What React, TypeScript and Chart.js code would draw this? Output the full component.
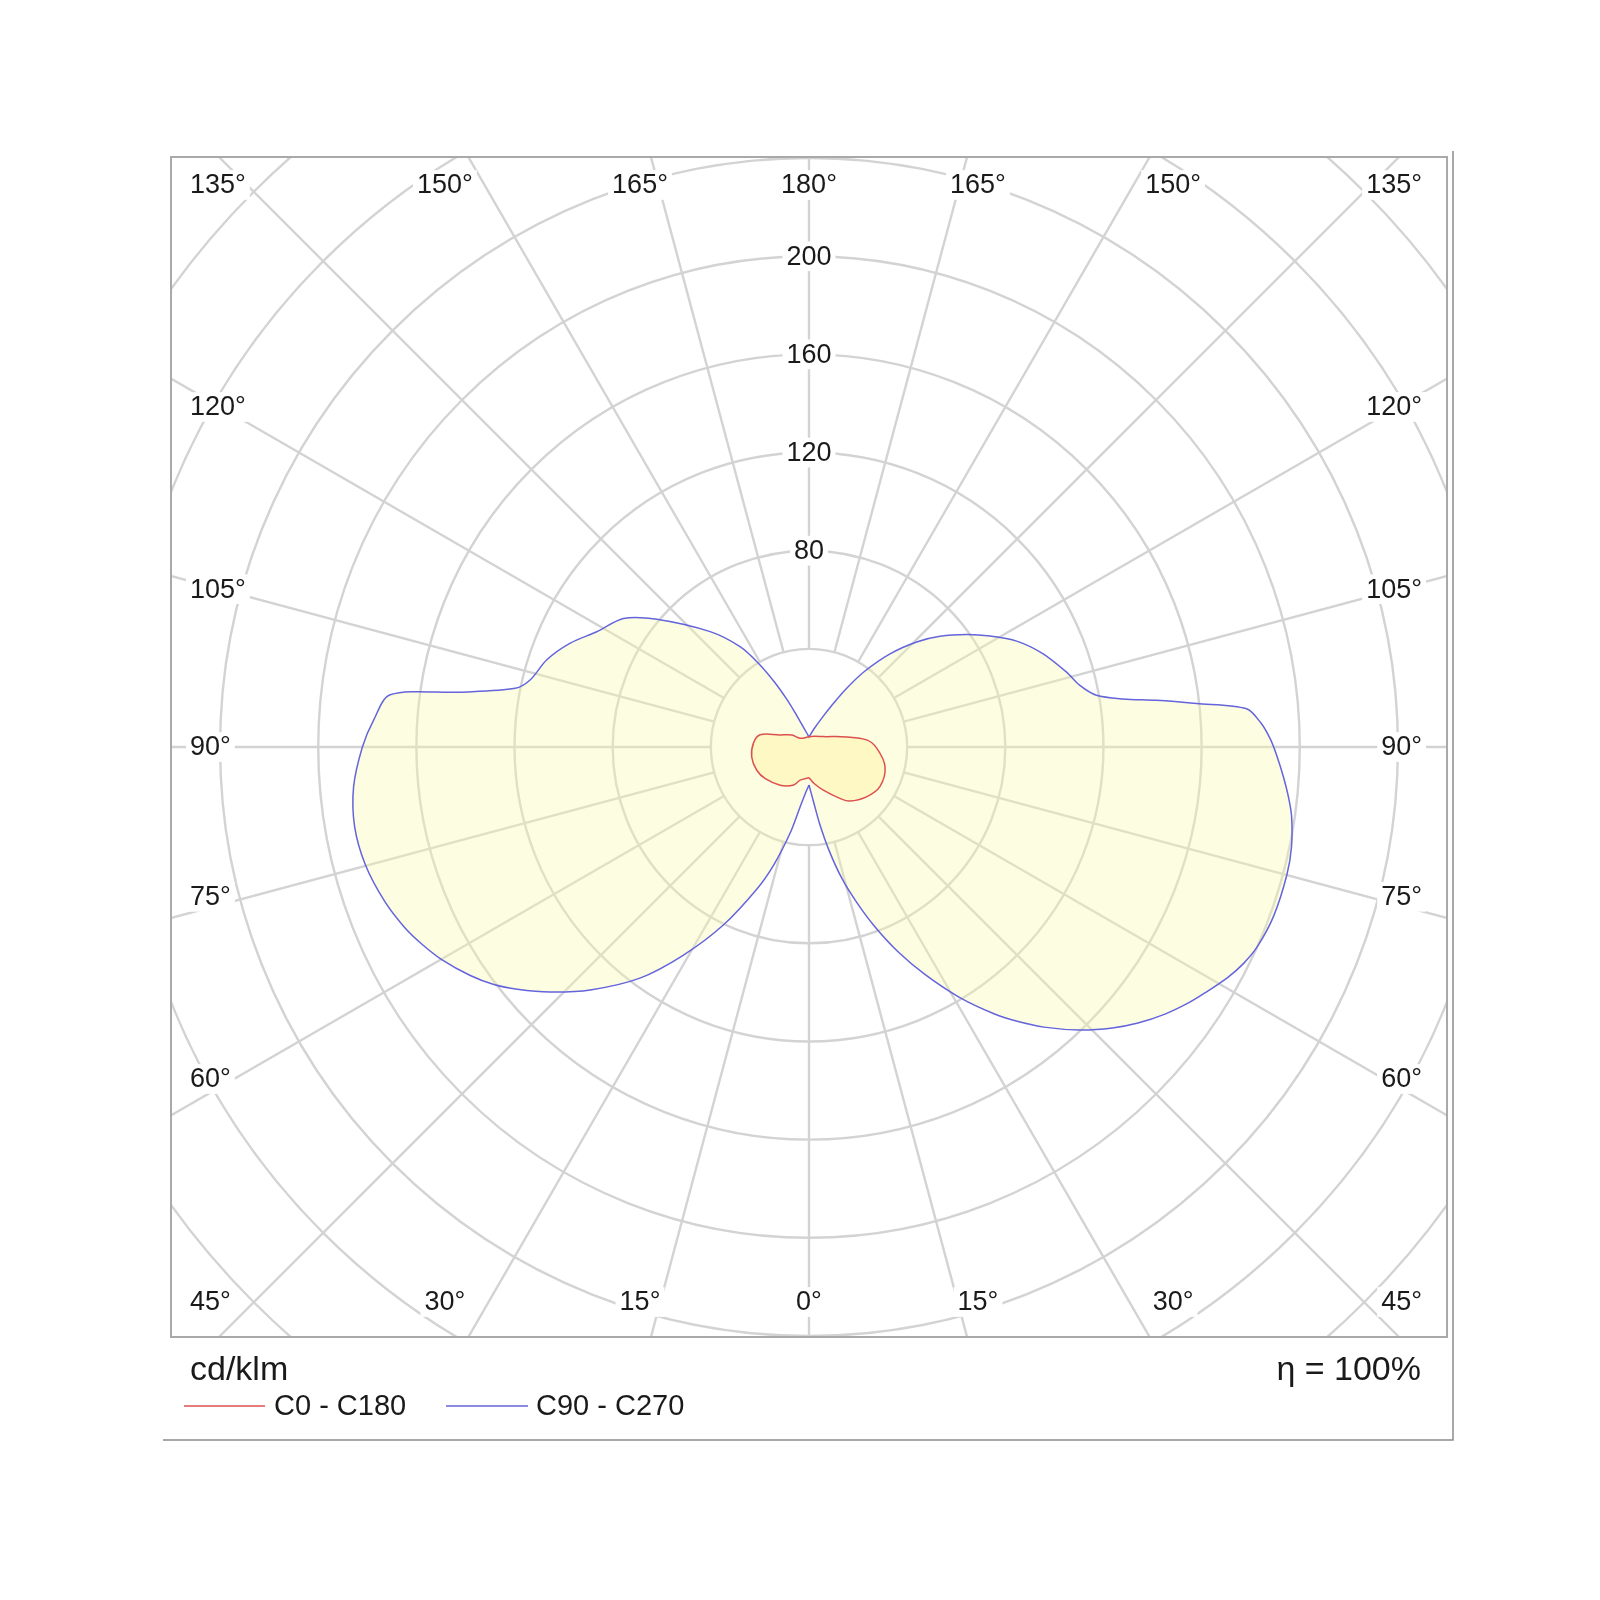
import React, { useEffect, useRef } from "react";
import { Chart, registerables } from "chart.js";

Chart.register(...registerables);

// Luminous intensity (cd/klm) versus gamma angle (deg, 0 = straight down)
const c90Angles = [0, 5, 8, 11, 14, 17, 20, 23.5, 27, 31, 34.8, 37.1, 40, 43.7, 47.2, 50, 53.2, 56, 58.2, 61.2, 63.5, 66, 70, 75, 78.3, 81.8, 84, 86.5, 89, 91, 93, 95, 96.4, 97.65, 98.7, 100.2, 102.8, 106.2, 111.7, 117, 121.5, 125.5, 130.2, 134.3, 139, 143.8, 147.7, 151.4, 156, 165, 180];
const c90Values = [15.5, 23, 32, 43, 55, 66, 77.5, 91, 104, 119, 132.5, 140, 149, 159.5, 168.5, 175, 181.5, 186.5, 190, 194.8, 197.8, 200, 201.5, 201.6, 200.8, 198.7, 196.5, 193.6, 190.6, 188, 184.5, 179, 158.9, 142.9, 129.5, 119, 113.2, 109.3, 102.7, 95, 86.5, 78.9, 69.9, 61.3, 50.3, 38, 27.5, 19, 13, 7.5, 4];

const c270Angles = [0, 5, 8.6, 12.4, 16.6, 20.1, 25.7, 31.1, 36.2, 42, 46.6, 50.3, 53, 56, 60, 63, 66, 70, 75, 80, 85, 90, 93.5, 97.1, 98.9, 101.3, 103.5, 108.4, 113.5, 118.5, 124.7, 130, 139.4, 145.5, 149, 152, 155, 158, 162, 170, 180];
const c270Values = [15.5, 19.5, 25, 36, 50, 61.5, 80.5, 99, 116.7, 133.2, 145.3, 154.5, 160.8, 166.5, 173, 177, 180.5, 184, 187, 188, 186.3, 182, 177.8, 172, 144.3, 122.1, 116.9, 112.6, 106.1, 98.4, 92, 81, 61.9, 49.6, 39.5, 30, 21.5, 15, 10, 6, 4];

const c0Angles = [0, 8, 18.4, 31, 37, 49, 61, 75.5, 89, 97, 105, 126, 150, 180];
const c0Values = [12.5, 15, 18.5, 24.4, 27.6, 31, 33.1, 32, 27.6, 23.7, 15.9, 7.2, 5, 4.2];

const c180Angles = [0, 15, 22, 37, 54, 66, 80, 94, 104, 112.5, 125, 134, 180];
const c180Values = [12.5, 14, 16.7, 19.5, 22, 23.3, 23.7, 22.7, 20.5, 12.8, 8.5, 5.1, 4.2];

const ringValues = [40, 80, 120, 160, 200, 240, 280, 320, 360];
const ringLabelValues = [80, 120, 160, 200];
const spokeStep = 15;
const topAngleLabels = [135, 150, 165, 180, 165, 150, 135];
const bottomAngleLabels = [45, 30, 15, 0, 15, 30, 45];
const sideAngleLabels = [120, 105, 90, 75, 60];

const unitLabel = "cd/klm";
const efficiencyLabel = "\u03b7 = 100%";
const seriesNames = ["C0 - C180", "C90 - C270"];

const RED = "#dc5050";
const BLUE = "#6464dc";

function loop(rightA: number[], rightV: number[], leftA: number[], leftV: number[]) {
  const pts: { x: number; y: number }[] = [];
  for (let i = 0; i < rightA.length; i++) {
    const t = (rightA[i] * Math.PI) / 180;
    pts.push({ x: rightV[i] * Math.sin(t), y: -rightV[i] * Math.cos(t) });
  }
  for (let i = leftA.length - 1; i >= 0; i--) {
    const t = (leftA[i] * Math.PI) / 180;
    pts.push({ x: -leftV[i] * Math.sin(t), y: -leftV[i] * Math.cos(t) });
  }
  return pts;
}

const FONT = '"Liberation Sans", Arial, sans-serif';

function boxedText(ctx: CanvasRenderingContext2D, text: string, x: number, y: number, align: CanvasTextAlign, size: number) {
  ctx.font = `${size}px ${FONT}`;
  const w = ctx.measureText(text).width;
  let left = x;
  if (align === "center") left = x - w / 2;
  else if (align === "right") left = x - w;
  ctx.fillStyle = "#ffffff";
  ctx.fillRect(left - 4, y - size * 0.55, w + 8, size * 1.1);
  ctx.fillStyle = "#1a1a1a";
  ctx.textAlign = "left";
  ctx.textBaseline = "middle";
  ctx.fillText(text, left, y + 1);
}

const polarGrid = {
  id: "polarGrid",
  beforeDatasetsDraw(chart: any) {
    const { ctx, chartArea: a, scales } = chart;
    const xs = scales.x;
    const ys = scales.y;
    const cx = xs.getPixelForValue(0);
    const cy = ys.getPixelForValue(0);
    const k = xs.getPixelForValue(1) - cx;
    ctx.save();
    ctx.beginPath();
    ctx.rect(a.left, a.top, a.right - a.left, a.bottom - a.top);
    ctx.clip();
    ctx.strokeStyle = "#d3d3d3";
    ctx.lineWidth = 2.4;
    for (const r of ringValues) {
      ctx.beginPath();
      ctx.arc(cx, cy, r * k, 0, Math.PI * 2);
      ctx.stroke();
    }
    const r0 = ringValues[0] * k;
    const r1 = 420 * k;
    for (let d = 0; d < 360; d += spokeStep) {
      const t = (d * Math.PI) / 180;
      ctx.beginPath();
      ctx.moveTo(cx + r0 * Math.sin(t), cy + r0 * Math.cos(t));
      ctx.lineTo(cx + r1 * Math.sin(t), cy + r1 * Math.cos(t));
      ctx.stroke();
    }
    for (const v of ringLabelValues) {
      boxedText(ctx, String(v), cx, cy - v * k, "center", 27);
    }
    const leftX = a.left + 19;
    const rightX = a.right - 25;
    const topY = a.top + 28;
    const botY = a.bottom - 35;
    const D = 257;
    const n = topAngleLabels.length;
    const mid = (n - 1) / 2;
    for (let i = 0; i < n; i++) {
      const off = Math.abs(i - mid) * spokeStep;
      const sign = i < mid ? -1 : 1;
      const tl = topAngleLabels[i] + "\u00b0";
      const bl = bottomAngleLabels[i] + "\u00b0";
      if (off >= 45) {
        const al: CanvasTextAlign = sign < 0 ? "left" : "right";
        const xx = sign < 0 ? leftX : rightX;
        boxedText(ctx, tl, xx, topY, al, 27);
        boxedText(ctx, bl, xx, botY, al, 27);
      } else {
        const xx = cx + sign * D * Math.tan((off * Math.PI) / 180) * k;
        boxedText(ctx, tl, xx, topY, "center", 27);
        boxedText(ctx, bl, xx, botY, "center", 27);
      }
    }
    for (const s of sideAngleLabels) {
      const b = ((s - 90) * Math.PI) / 180;
      let yy = cy - 240 * Math.tan(b) * k;
      if (s < 90) yy -= 8;
      boxedText(ctx, s + "\u00b0", leftX, yy, "left", 27);
      boxedText(ctx, s + "\u00b0", rightX, yy, "right", 27);
    }
    ctx.restore();
  },
  afterDraw(chart: any) {
    const { ctx, chartArea: a } = chart;
    ctx.save();
    ctx.strokeStyle = "#a9a9a9";
    ctx.lineWidth = 2;
    ctx.strokeRect(a.left, a.top, a.right - a.left, a.bottom - a.top);
    ctx.strokeStyle = "#8c8c8c";
    ctx.lineWidth = 1.5;
    ctx.beginPath();
    ctx.moveTo(a.right + 6, a.top - 6);
    ctx.lineTo(a.right + 6, 1440);
    ctx.lineTo(a.left - 8, 1440);
    ctx.stroke();
    ctx.fillStyle = "#1a1a1a";
    ctx.textBaseline = "middle";
    ctx.textAlign = "left";
    ctx.font = `34px ${FONT}`;
    ctx.fillText(unitLabel, a.left + 19, 1371);
    ctx.textAlign = "right";
    ctx.fillText(efficiencyLabel, a.right - 26, 1371);
    ctx.textAlign = "left";
    ctx.font = `29px ${FONT}`;
    const ly = 1406;
    ctx.lineWidth = 1.5;
    ctx.strokeStyle = RED;
    ctx.beginPath();
    ctx.moveTo(184, ly);
    ctx.lineTo(265, ly);
    ctx.stroke();
    ctx.fillText(seriesNames[0], 274, ly + 1);
    ctx.strokeStyle = BLUE;
    ctx.beginPath();
    ctx.moveTo(446, ly);
    ctx.lineTo(528, ly);
    ctx.stroke();
    ctx.fillText(seriesNames[1], 536, ly + 1);
    ctx.restore();
  },
};

export default function App() {
  const ref = useRef<HTMLCanvasElement | null>(null);
  useEffect(() => {
    if (!ref.current) return;
    const chart = new Chart(ref.current, {
      type: "scatter",
      data: {
        datasets: [
          {
            label: seriesNames[0],
            data: loop(c0Angles, c0Values, c180Angles, c180Values),
            showLine: true,
            borderColor: RED,
            borderWidth: 1.5,
            backgroundColor: "rgba(255,238,130,0.3)",
            fill: "shape",
            pointRadius: 0,
            tension: 0.35,
            order: 0,
          },
          {
            label: seriesNames[1],
            data: loop(c90Angles, c90Values, c270Angles, c270Values),
            showLine: true,
            borderColor: BLUE,
            borderWidth: 1.5,
            backgroundColor: "rgba(250,250,170,0.35)",
            fill: "shape",
            pointRadius: 0,
            tension: 0.3,
            order: 1,
          },
        ],
      },
      options: {
        animation: false,
        responsive: false,
        layout: { padding: { left: 171, top: 157, right: 153, bottom: 263 } },
        scales: {
          x: { type: "linear", min: -260, max: 260, display: false },
          y: { type: "linear", min: -240.4, max: 240.4, display: false },
        },
        plugins: { legend: { display: false }, tooltip: { enabled: false } },
      },
      plugins: [polarGrid],
    } as any);
    return () => chart.destroy();
  }, []);
  return (
    <div style={{ position: "absolute", left: 0, top: 0, width: 1600, height: 1600, background: "#fff" }}>
      <canvas ref={ref} width={1600} height={1600} style={{ width: 1600, height: 1600 }} />
    </div>
  );
}
